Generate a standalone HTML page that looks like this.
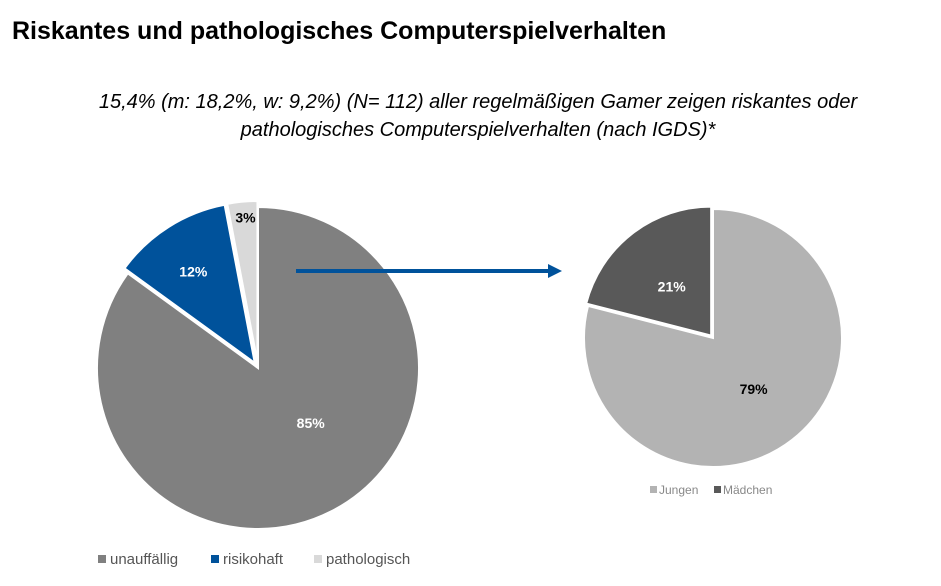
<!DOCTYPE html>
<html><head><meta charset="utf-8"><style>
body{margin:0;background:#fff;width:941px;height:586px;overflow:hidden;font-family:"Liberation Sans",sans-serif}
svg{position:absolute;left:0;top:0}
</style></head><body>
<svg width="941" height="586" viewBox="0 0 941 586">
<text x="12" y="39" font-size="25" font-weight="bold" fill="#000">Riskantes und pathologisches Computerspielverhalten</text>
<text x="478" y="108" font-size="20" font-style="italic" text-anchor="middle" fill="#000">15,4% (m: 18,2%, w: 9,2%) (N= 112) aller regelmäßigen Gamer zeigen riskantes oder</text>
<text x="478" y="136" font-size="20" font-style="italic" text-anchor="middle" fill="#000">pathologisches Computerspielverhalten (nach IGDS)*</text>
<g id="left"></g>
<g id="right"></g>
<line x1="296" y1="271" x2="552" y2="271" stroke="#00529b" stroke-width="4"/>
<polygon points="548,264 562,271 548,278" fill="#00529b"/>
<g font-size="15" fill="#555">
<rect x="98" y="555" width="8" height="8" fill="#808080"/><text x="110" y="564">unauffällig</text>
<rect x="211" y="555" width="8" height="8" fill="#00529b"/><text x="223" y="564">risikohaft</text>
<rect x="314" y="555" width="8" height="8" fill="#d9d9d9"/><text x="326" y="564">pathologisch</text>
</g>
<g font-size="12" fill="#888">
<rect x="650" y="486" width="7" height="7" fill="#b3b3b3"/><text x="659" y="494">Jungen</text>
<rect x="714" y="486" width="7" height="7" fill="#595959"/><text x="723" y="494">Mädchen</text>
</g>
</svg>
<script>
const leftCategories=['unauffällig','risikohaft','pathologisch'];
const leftValues=[85,12,3];
const leftLabels=['85%','12%','3%'];
const rightCategories=['Jungen','Mädchen'];
const rightValues=[79,21];
const rightLabels=['79%','21%'];
const NS='http://www.w3.org/2000/svg';
function pie(g,cx,cy,r,vals,labels,colors,explode,labelColors,labelR,names,ldx,ldy){
  const tot=vals.reduce((a,b)=>a+b,0);let a0=0;
  vals.forEach((v,i)=>{
    const a1=a0+v/tot*2*Math.PI,mid=(a0+a1)/2;
    const ox=Math.sin(mid)*explode[i],oy=-Math.cos(mid)*explode[i];
    const x=cx+ox,y=cy+oy;
    const p=document.createElementNS(NS,'path');
    const large=(a1-a0)>Math.PI?1:0;
    p.setAttribute('d',`M${x},${y}L${x+r*Math.sin(a0)},${y-r*Math.cos(a0)}A${r},${r} 0 ${large} 1 ${x+r*Math.sin(a1)},${y-r*Math.cos(a1)}Z`);
    p.setAttribute('fill',colors[i]);p.setAttribute('stroke','#fff');p.setAttribute('stroke-width','2');
    
    
    g.appendChild(p);
    const t=document.createElementNS(NS,'text');
    const lr=r*labelR[i];
    t.setAttribute('x',x+lr*Math.sin(mid)+ldx[i]);t.setAttribute('y',y-lr*Math.cos(mid)+5+ldy[i]);
    t.setAttribute('text-anchor','middle');t.setAttribute('font-size','14');t.setAttribute('font-weight','bold');
    t.setAttribute('fill',labelColors[i]);t.textContent=labels[i];
    
    
    g.appendChild(t);
    a0=a1;
  });
}
pie(document.getElementById('left'),258,368,161,leftValues,leftLabels,['#808080','#00529b','#d9d9d9'],[0,6,6],['#fff','#fff','#000'],[0.42,0.62,0.92],['unauffaellig','risikohaft','pathologisch'],[22,-8,2],[-5,-7,3]);
pie(document.getElementById('right'),713,338,129,rightValues,rightLabels,['#b3b3b3','#595959'],[0,3],['#000','#fff'],[0.45,0.55],['jungen','maedchen'],[5,4],[5,7]);
</script>
</body></html>
